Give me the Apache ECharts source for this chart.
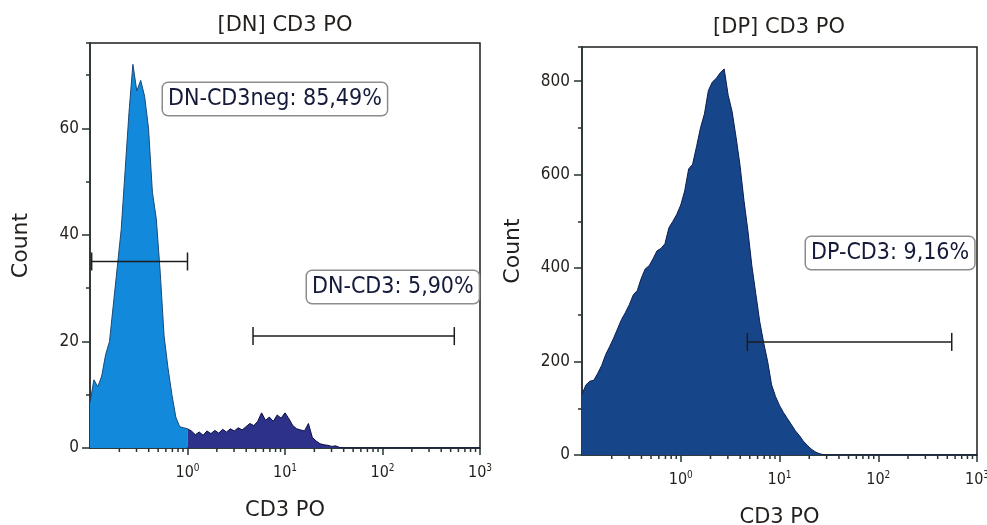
<!DOCTYPE html>
<html>
<head>
<meta charset="utf-8">
<script src="https://cdn.jsdelivr.net/npm/echarts@6/dist/echarts.min.js"></script>
<style>
  html, body { margin: 0; background: #fff; }
  #main { width: 987px; height: 525px; }
</style>
</head>
<body>
<div id="main"></div>
<script>
// histogram bins: log10 channels, starting at 10^-1, 0.04 decade wide
var binStart = -1;
var binStep = 0.04;

// [DN] panel, counts per bin (gate CD3neg part, bins 0..25)
var dnNegCounts = [8.5, 12.8, 11.5, 13.5, 17.5, 20, 27, 34, 41, 52, 63, 72, 67, 69, 66, 60, 48, 43, 33, 21, 15, 10, 5.8, 4, 3.8, 3.6];
// [DN] panel, rest of the histogram (bins 25..65)
var dnPosStart = 25;
var dnPosCounts = [3.6, 3.2, 2.5, 3.0, 2.4, 3.2, 2.7, 3.3, 2.8, 3.5, 3.0, 3.6, 3.2, 3.8, 3.4, 4.0, 4.6, 4.2, 5.0, 6.6,
  5.2, 5.8, 5.0, 6.2, 5.6, 6.6, 5.5, 4.2, 3.6, 3.4, 3.2, 4.6, 2.0, 1.3, 0.8, 0.6, 0.5, 0.3, 0.4, 0.1, 0];
// [DP] panel counts (bins 0..62)
var dpCounts = [130, 150, 158, 160, 175, 192, 215, 232, 250, 270, 290, 305, 322, 343, 352, 378, 398, 405, 420, 437,
  442, 452, 486, 500, 515, 535, 565, 612, 622, 660, 700, 730, 780, 798, 806, 818, 826, 770, 735, 680,
  620, 545, 480, 405, 345, 285, 240, 200, 150, 125, 106, 91, 78, 65, 52, 42, 30, 21, 13, 7, 3, 1, 0];

// gates: [from, to, height]
var dnNegGate = [0.104, 1, 35];
var dnCd3Gate = [4.7, 545, 21];
var dpCd3Gate = [4.72, 555, 242];

var dnLabels = ['DN-CD3neg: 85,49%', 'DN-CD3: 5,90%'];
var dpLabels = ['DP-CD3: 9,16%'];
var titles = ['[DN] CD3 PO', '[DP] CD3 PO'];

var xMin = 0.1, xMax = 1000;
var dnYMax = 76, dpYMax = 873;

var FONT = 'DejaVu Sans';
var COND = 'DejaVu Sans Condensed';
var AX = '#263333';
var TXT = '#231f1c';

function binX(i) {
  return Math.pow(10, binStart + i * binStep);
}
function toPairs(counts, offset) {
  return counts.map(function (c, k) { return [binX(k + offset), c]; });
}

// minor log ticks 2..9 x 10^k
var minorTicks = [];
for (var k = -1; k < 3; k++) {
  for (var m = 2; m <= 9; m++) minorTicks.push([m * Math.pow(10, k), 0]);
}

function powLabel(v) {
  var e = Math.round(Math.log10(v));
  return '{b|10}{s|' + e + '}';
}

function xAxisOpt(grid, gap) {
  return {
    type: 'log', gridIndex: grid, min: xMin, max: xMax, logBase: 10,
    axisLine: { show: true, lineStyle: { color: AX, width: 1.5 } },
    axisTick: { show: true, length: 7, lineStyle: { color: AX, width: 1.5 } },
    minorTick: { show: false },
    splitLine: { show: false },
    axisLabel: {
      margin: 15, showMinLabel: false, formatter: powLabel,
      rich: {
        b: { fontFamily: COND, fontSize: 16, color: TXT, lineHeight: 18, verticalAlign: 'bottom' },
        s: { fontFamily: COND, fontSize: 10, color: TXT, lineHeight: 10, verticalAlign: 'top' }
      }
    },
    name: 'CD3 PO', nameLocation: 'middle', nameGap: gap,
    nameTextStyle: { fontFamily: FONT, fontSize: 21, color: TXT }
  };
}

function yAxisOpt(grid, max, interval, margin) {
  return {
    type: 'value', gridIndex: grid, min: 0, max: max, interval: interval, position: 'left',
    axisLine: { show: true, lineStyle: { color: AX, width: 1.5 } },
    axisTick: { show: true, length: 8, lineStyle: { color: AX, width: 1.5 } },
    splitLine: { show: false },
    axisLabel: { margin: margin, showMaxLabel: false, fontFamily: COND, fontSize: 17, color: TXT },
    name: 'Count', nameLocation: 'middle', nameRotate: 90, nameGap: 58,
    nameTextStyle: { fontFamily: FONT, fontSize: 22, color: TXT }
  };
}
function yMinorOpt(grid, max, interval) {
  return {
    type: 'value', gridIndex: grid, min: 0, max: max, interval: interval, position: 'left',
    axisLine: { show: false },
    axisTick: { show: true, length: 4, lineStyle: { color: AX, width: 1.5 } },
    axisLabel: { show: false }, splitLine: { show: false }
  };
}

function areaSeries(xi, yi, data, fill, stroke) {
  return {
    type: 'line', xAxisIndex: xi, yAxisIndex: yi, data: data,
    symbol: 'none', smooth: false, silent: true,
    lineStyle: { color: stroke, width: 1 },
    areaStyle: { color: fill, opacity: 1 },
    z: 2
  };
}

function minorTickSeries(xi, yi) {
  return {
    type: 'custom', xAxisIndex: xi, yAxisIndex: yi, data: minorTicks, clip: false, silent: true, z: 5,
    encode: { x: 0, y: 1 },
    renderItem: function (params, api) {
      var p = api.coord([api.value(0), 0]);
      return { type: 'line', shape: { x1: p[0], y1: p[1], x2: p[0], y2: p[1] + 4 },
        style: { stroke: AX, lineWidth: 1.5 } };
    }
  };
}

function gateSeries(xi, yi, gate) {
  return {
    type: 'custom', xAxisIndex: xi, yAxisIndex: yi, data: [gate], clip: false, silent: true, z: 6,
    encode: { x: [0, 1], y: 2 },
    renderItem: function (params, api) {
      var a = api.coord([api.value(0), api.value(2)]);
      var b = api.coord([api.value(1), api.value(2)]);
      var st = { stroke: '#1e1e1e', lineWidth: 1.5 };
      return { type: 'group', children: [
        { type: 'line', shape: { x1: a[0], y1: a[1], x2: b[0], y2: b[1] }, style: st },
        { type: 'line', shape: { x1: a[0], y1: a[1] - 9, x2: a[0], y2: a[1] + 9 }, style: st },
        { type: 'line', shape: { x1: b[0], y1: b[1] - 9, x2: b[0], y2: b[1] + 9 }, style: st }
      ] };
    }
  };
}

function labelBox(text, x, y) {
  return {
    type: 'text', x: x, y: y, z: 20,
    style: {
      text: text, font: '23px "' + COND + '"', fill: '#141a38',
      backgroundColor: '#fff', borderColor: '#8c8c8c', borderWidth: 1.5, borderRadius: 5,
      padding: [5, 5, 4, 5]
    }
  };
}
function titleText(text, x, y) {
  return {
    type: 'text', x: x, y: y,
    style: { text: text, font: '21px "' + FONT + '"', fill: TXT, textAlign: 'center', textVerticalAlign: 'middle' }
  };
}

var chart = echarts.init(document.getElementById('main'), null, { renderer: 'canvas' });

var dnNegData = toPairs(dnNegCounts, 0);
var dnPosData = toPairs(dnPosCounts, dnPosStart).concat([[xMax, 0]]);
var dpData = toPairs(dpCounts, 0).concat([[xMax, 0]]);

var option = {
  animation: false,
  backgroundColor: '#fff',
  grid: [
    { left: 90, top: 43, width: 390, height: 405, outerBoundsMode: 'none', containLabel: false,
      show: true, borderColor: '#1e1e1e', borderWidth: 1.5, backgroundColor: 'transparent' },
    { left: 582, top: 47, width: 395, height: 408, outerBoundsMode: 'none', containLabel: false,
      show: true, borderColor: '#1e1e1e', borderWidth: 1.5, backgroundColor: 'transparent' }
  ],
  xAxis: [xAxisOpt(0, 52), xAxisOpt(1, 52)],
  yAxis: [
    yAxisOpt(0, dnYMax, 20, 11),
    yMinorOpt(0, dnYMax, 10),
    yAxisOpt(1, dpYMax, 200, 12),
    yMinorOpt(1, dpYMax, 100)
  ],
  series: [
    areaSeries(0, 0, dnNegData, '#1289da', '#1a4a78'),
    areaSeries(0, 0, dnPosData, '#2e318a', '#0c1040'),
    areaSeries(1, 2, dpData, '#17458a', '#0b1d50'),
    minorTickSeries(0, 0),
    minorTickSeries(1, 2),
    gateSeries(0, 0, dnNegGate),
    gateSeries(0, 0, dnCd3Gate),
    gateSeries(1, 2, dpCd3Gate)
  ],
  graphic: [
    titleText(titles[0], 285, 26),
    titleText(titles[1], 779, 28),
    labelBox(dnLabels[0], 163, 83),
    labelBox(dnLabels[1], 307, 271),
    labelBox(dpLabels[0], 806, 237)
  ]
};

chart.setOption(option);
</script>
</body>
</html>
